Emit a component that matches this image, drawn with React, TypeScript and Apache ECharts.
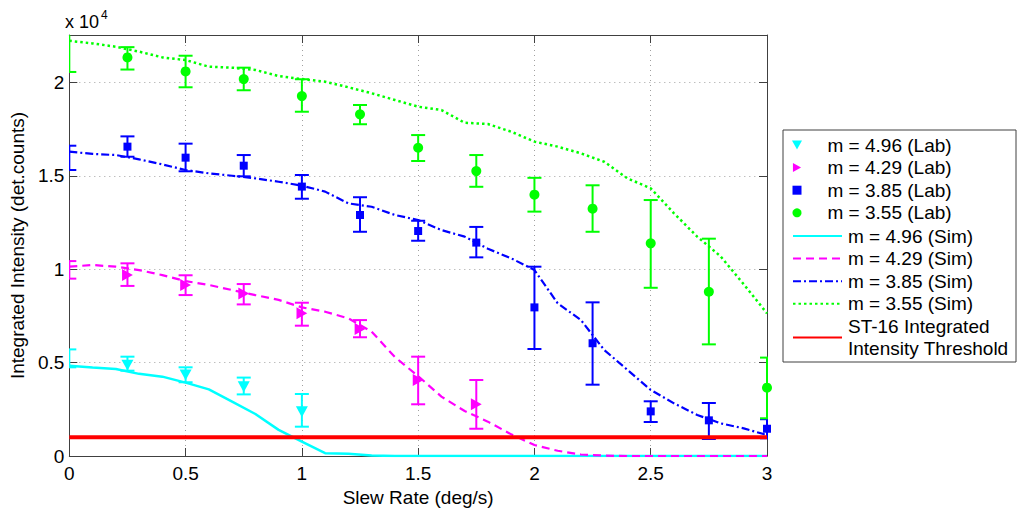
import React, { useEffect, useRef } from "react";
import * as echarts from "echarts";

const FONT = "'Liberation Sans', Arial, sans-serif";

// Simulation abscissa (deg/s)
const simX = [0, 0.1, 0.2, 0.3, 0.4, 0.5, 0.6, 0.7, 0.8, 0.9, 1.0, 1.1, 1.2, 1.3, 1.4, 1.5, 1.6, 1.7, 1.8, 1.9, 2.0, 2.1, 2.2, 2.3, 2.4, 2.5, 2.6, 2.7, 2.8, 2.9, 3.0];
// Simulated integrated intensity (det. counts)
const sim496 = [4840, 4740, 4660, 4400, 4250, 3930, 3570, 2910, 2250, 1400, 770, 150, 120, 30, 0, 0, 0, 0, 0, 0, 0, 0, 0, 0, 0, 0, 0, 0, 0, 0, 0];
const sim429 = [10140, 10230, 10140, 9960, 9690, 9370, 9160, 8890, 8620, 8360, 7960, 7730, 7370, 6660, 5300, 4280, 3180, 2410, 1840, 1160, 590, 280, 80, 20, 0, 0, 0, 0, 0, 0, 0];
const sim385 = [16300, 16180, 16120, 15890, 15620, 15320, 15140, 15010, 14870, 14690, 14480, 14160, 13530, 13350, 12910, 12640, 12100, 11750, 11100, 10590, 9960, 8180, 7280, 5680, 4610, 3540, 2820, 2200, 1750, 1480, 1120];
const sim355 = [22240, 22100, 21920, 21660, 21350, 21210, 20850, 20800, 20680, 20350, 20190, 20050, 19750, 19430, 19070, 18710, 18530, 17850, 17780, 17370, 16840, 16570, 16210, 15760, 14870, 14340, 13000, 11750, 10700, 9200, 7640];

// Lab measurements (markers)
const labX = [0.25, 0.5, 0.75, 1.0, 1.25, 1.5, 1.75, 2.0, 2.25, 2.5, 2.75, 3.0];
const lab496 = [4870, 4340, 3710, 2370];
const lab429 = [9690, 9160, 8710, 7640, 6800, 4070, 2770];
const lab385 = [16570, 15980, 15550, 14430, 12910, 12050, 11430, 7960, 6040, 2390, 1910, 1460];
const lab355 = [21350, 20600, 20190, 19280, 18300, 16510, 15260, 14000, 13250, 11390, 8800, 3660];

// Error bars (first entry at 0 deg/s)
const errX = [0, 0.25, 0.5, 0.75, 1.0, 1.25, 1.5, 1.75, 2.0, 2.25, 2.5, 2.75, 3.0];
const lo496 = [4750, 4570, 3950, 3300, 1570];
const hi496 = [5710, 5320, 4750, 4200, 3320];
const lo429 = [9500, 9110, 8620, 8120, 6980, 6360, 2770, 1460];
const hi429 = [10440, 10320, 9680, 9210, 8210, 7280, 5320, 4070];
const lo385 = [15320, 16030, 15250, 14980, 13780, 12010, 11530, 10640, 5730, 3820, 1820, 910, 950];
const hi385 = [16620, 17120, 16730, 16120, 15050, 13860, 12600, 12270, 10140, 8230, 2930, 2840, 1970];
const lo355 = [20570, 20700, 19750, 19590, 18440, 17770, 15800, 14420, 13090, 12010, 9010, 5980, 2020];
const hi355 = [23500, 21900, 21440, 20800, 20180, 18800, 17190, 16120, 14900, 14500, 13710, 11640, 5270];

// Threshold
const threshX = [0, 3];
const threshY = [1000, 1000];

const xTicks = { min: 0, max: 3, interval: 0.5 };
const yTicks = { min: 0, max: 22550, interval: 5000 };

const NAMES = {
  l496: "m = 4.96 (Lab)",
  l429: "m = 4.29 (Lab)",
  l385: "m = 3.85 (Lab)",
  l355: "m = 3.55 (Lab)",
  s496: "m = 4.96 (Sim)",
  s429: "m = 4.29 (Sim)",
  s385: "m = 3.85 (Sim)",
  s355: "m = 3.55 (Sim)",
  thr: "ST-16 Integrated\nIntensity Threshold",
};

const CYAN = "#00ffff";
const MAGENTA = "#ff00ff";
const BLUE = "#0000ff";
const GREEN = "#00ff00";
const RED = "#ff0000";

const TRI_DOWN = "path://M0,0 L10,0 L5,9 Z";
const TRI_RIGHT = "path://M0,0 L9,5 L0,10 Z";
const SQUARE = "path://M0,0 L10,0 L10,10 L0,10 Z";

const pairs = (xs: number[], ys: number[]) => ys.map((y, i) => [xs[i], y]);
const triples = (xs: number[], lo: number[], hi: number[]) => lo.map((l, i) => [xs[i], l, hi[i]]);

function errSeries(name: string, data: number[][], color: string) {
  return {
    type: "custom",
    name,
    data,
    clip: true,
    encode: { x: 0, y: [1, 2] },
    z: 2,
    renderItem: (_params: any, api: any) => {
      const x = api.value(0);
      const pLo = api.coord([x, api.value(1)]);
      const pHi = api.coord([x, api.value(2)]);
      const hw = 7;
      const style = { stroke: color, lineWidth: 2, fill: "none" };
      return {
        type: "group",
        children: [
          { type: "line", shape: { x1: pLo[0], y1: pLo[1], x2: pHi[0], y2: pHi[1] }, style },
          { type: "line", shape: { x1: pLo[0] - hw, y1: pLo[1], x2: pLo[0] + hw, y2: pLo[1] }, style },
          { type: "line", shape: { x1: pHi[0] - hw, y1: pHi[1], x2: pHi[0] + hw, y2: pHi[1] }, style },
        ],
      };
    },
  };
}

function labSeries(name: string, data: number[][], color: string, symbol: string, size: number) {
  return {
    type: "scatter",
    name,
    data,
    symbol,
    symbolSize: size,
    symbolKeepAspect: true,
    clip: false,
    itemStyle: { color, opacity: 1 },
    z: 3,
  };
}

function simSeries(name: string, data: number[][], color: string, type: any, width: number) {
  return {
    type: "line",
    name,
    data,
    symbol: "none",
    showSymbol: false,
    smooth: false,
    lineStyle: { color, type, width },
    itemStyle: { color },
    z: 4,
  };
}

const axisColor = "#404040";

export default function App() {
  const ref = useRef<HTMLDivElement>(null);
  useEffect(() => {
    const chart = echarts.init(ref.current!, null, { renderer: "svg" });
    const labelStyle = { color: "#000", fontSize: 19, fontFamily: FONT };
    const option: any = {
      animation: false,
      backgroundColor: "#fff",
      textStyle: { fontFamily: FONT },
      grid: { left: 65, top: 35, width: 702, height: 421, containLabel: false },
      xAxis: [
        {
          type: "value",
          position: "bottom",
          ...xTicks,
          name: "Slew Rate (deg/s)",
          nameLocation: "middle",
          nameGap: 28,
          nameTextStyle: { ...labelStyle },
          axisLine: { show: true, onZero: false, lineStyle: { color: axisColor, width: 1 } },
          axisTick: { show: true, inside: true, length: 8, lineStyle: { color: axisColor } },
          axisLabel: { ...labelStyle, margin: 8, formatter: (v: number) => String(v) },
          splitLine: { show: true, lineStyle: { color: "#a0a0a0", type: [1, 4], width: 1 } },
        },
        {
          type: "value",
          position: "top",
          ...xTicks,
          axisLine: { show: true, onZero: false, lineStyle: { color: axisColor, width: 1 } },
          axisTick: { show: true, inside: true, length: 8, lineStyle: { color: axisColor } },
          axisLabel: { show: false },
          splitLine: { show: false },
        },
      ],
      yAxis: [
        {
          type: "value",
          position: "left",
          ...yTicks,
          name: "Integrated Intensity (det.counts)",
          nameLocation: "middle",
          nameGap: 42,
          nameTextStyle: { ...labelStyle },
          axisLine: { show: true, onZero: false, lineStyle: { color: axisColor, width: 1 } },
          axisTick: { show: true, inside: true, length: 8, lineStyle: { color: axisColor } },
          axisLabel: { ...labelStyle, margin: 5, showMaxLabel: false, formatter: (v: number) => String(v / 10000) },
          splitLine: { show: true, lineStyle: { color: "#a0a0a0", type: [1, 4], width: 1 } },
        },
        {
          type: "value",
          position: "right",
          ...yTicks,
          axisLine: { show: true, onZero: false, lineStyle: { color: axisColor, width: 1 } },
          axisTick: { show: true, inside: true, length: 8, lineStyle: { color: axisColor } },
          axisLabel: { show: false },
          splitLine: { show: false },
        },
      ],
      legend: [
        {
          orient: "vertical",
          left: 792,
          top: 134,
          padding: 0,
          itemWidth: 49,
          itemHeight: 9,
          itemGap: 0.6,
          selectedMode: false,
          symbolKeepAspect: true,
          textStyle: { color: "#000", fontSize: 19, fontFamily: FONT, lineHeight: 22, padding: [0, 0, 0, 1] },
          data: [NAMES.l496, NAMES.l429, NAMES.l385, NAMES.l355],
        },
        {
          orient: "vertical",
          left: 792,
          top: 225,
          padding: 0,
          itemWidth: 49,
          itemHeight: 14,
          itemGap: 0.6,
          selectedMode: false,
          itemStyle: { opacity: 0, borderWidth: 0 },
          textStyle: { color: "#000", fontSize: 19, fontFamily: FONT, lineHeight: 22, padding: [0, 0, 0, 1] },
          data: [NAMES.s496, NAMES.s429, NAMES.s385, NAMES.s355, NAMES.thr],
        },
      ],
      graphic: [
        {
          type: "rect",
          z: 0,
          shape: { x: 783, y: 130, width: 233, height: 232 },
          style: { fill: "#fff", stroke: axisColor, lineWidth: 1 },
        },
        {
          type: "text",
          z: 5,
          style: { text: "x 10", x: 65, y: 22, fill: "#000", font: `18px ${FONT}`, textVerticalAlign: "middle", verticalAlign: "middle" },
        },
        {
          type: "text",
          z: 5,
          style: { text: "4", x: 101, y: 15, fill: "#000", font: `12px ${FONT}`, textVerticalAlign: "middle", verticalAlign: "middle" },
        },
      ],
      series: [
        errSeries("err 4.96", triples(errX, lo496, hi496), CYAN),
        labSeries(NAMES.l496, pairs(labX, lab496), CYAN, TRI_DOWN, 12),
        errSeries("err 4.29", triples(errX, lo429, hi429), MAGENTA),
        labSeries(NAMES.l429, pairs(labX, lab429), MAGENTA, TRI_RIGHT, 12),
        errSeries("err 3.85", triples(errX, lo385, hi385), BLUE),
        labSeries(NAMES.l385, pairs(labX, lab385), BLUE, SQUARE, 8),
        errSeries("err 3.55", triples(errX, lo355, hi355), GREEN),
        labSeries(NAMES.l355, pairs(labX, lab355), GREEN, "circle", 10),
        simSeries(NAMES.s496, pairs(simX, sim496), CYAN, "solid", 2.5),
        simSeries(NAMES.s429, pairs(simX, sim429), MAGENTA, [8, 5], 2.2),
        simSeries(NAMES.s385, pairs(simX, sim385), BLUE, [8, 3, 2, 3], 2.2),
        simSeries(NAMES.s355, pairs(simX, sim355), GREEN, [2.5, 3], 2.5),
        simSeries(NAMES.thr, pairs(threshX, threshY), RED, "solid", 4),
      ],
    };
    chart.setOption(option);
    return () => chart.dispose();
  }, []);
  return (
    <div
      ref={ref}
      style={{ position: "fixed", left: 0, top: 0, width: 1024, height: 513, background: "#fff" }}
    />
  );
}
